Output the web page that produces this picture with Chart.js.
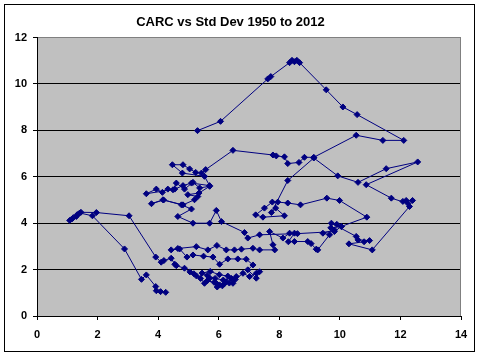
<!DOCTYPE html>
<html>
<head>
<meta charset="utf-8">
<script src="https://cdn.jsdelivr.net/npm/chart.js@4/dist/chart.umd.min.js"></script>
<style>
html,body{margin:0;padding:0;background:#fff;}
#wrap{position:relative;width:482px;height:357px;}
canvas{display:block;}
</style>
</head>
<body>
<div id="wrap"><canvas id="c" width="482" height="357"></canvas></div>
<script>
const chartTitle = 'CARC vs Std Dev 1950 to 2012';
const xTickValues = [0, 2, 4, 6, 8, 10, 12, 14];
const yTickValues = [0, 2, 4, 6, 8, 10, 12];

// Std Dev (x) in path order
const stdDev = [
  4.25,4.08,3.94,3.92,3.61,3.45,2.89,1.83,1.41,1.30,1.15,1.08,1.20,1.33,1.45,1.96,3.04,3.92,4.10,4.19,4.43,4.55,4.60,4.87,
  5.05,5.26,5.18,5.40,5.53,5.70,5.62,5.85,5.92,6.03,5.95,6.12,6.25,6.18,6.35,6.47,6.58,6.42,6.15,5.88,5.62,5.45,5.72,6.02,6.30,6.55,6.80,7.02,7.24,7.35,7.24,
  6.96,7.13,6.91,6.63,6.30,6.03,5.81,5.50,5.15,4.95,4.71,4.43,4.65,5.26,5.64,5.94,6.25,6.52,6.75,7.13,7.35,
  7.85,7.79,7.68,8.12,8.34,8.50,8.30,8.50,8.94,9.05,9.22,9.27,
  9.66,9.44,9.82,9.70,10.05,9.90,9.72,10.54,10.60,10.98,10.80,10.30,11.07,12.30,12.19,12.40,12.08,12.25,11.70,10.87,12.57,11.53,10.60,9.93,9.14,8.28,7.74,
  7.88,8.17,7.46,7.22,7.51,7.77,7.95,8.28,8.70,9.57,9.99,10.89,10.05,9.82,8.60,7.35,6.96,6.85,6.09,5.92,
  5.70,5.15,4.65,5.10,4.77,4.16,3.78,4.18,4.82,5.20,5.31,4.98,5.35,5.70,5.37,5.15,4.87,4.60,4.49,4.32,4.14,3.94,3.61,4.55,4.82,5.10,5.70,5.53,4.80,4.47,4.82,5.04,5.24,5.43,5.57,
  6.47,7.79,7.90,8.17,8.28,8.65,8.83,9.14,10.54,11.42,12.11,10.57,10.10,9.55,8.67,8.58,8.50,8.42,8.34,7.72,7.62,6.06,5.30
];

// CARC (y) in path order
const carc = [
  1.02,1.05,1.09,1.27,1.77,1.58,2.89,4.32,4.44,4.29,4.18,4.12,4.24,4.37,4.47,4.46,4.32,2.54,2.32,2.39,2.49,2.23,2.17,2.06,
  1.90,1.73,1.82,1.62,1.41,1.63,1.52,1.45,1.41,1.34,1.25,1.30,1.48,1.38,1.42,1.41,1.70,1.62,1.55,1.62,1.75,1.85,1.92,1.78,1.72,1.58,1.84,1.70,1.84,1.91,1.63,
  1.99,2.20,2.45,2.46,2.46,2.23,2.54,2.58,2.63,2.54,2.89,2.85,2.91,2.99,2.85,3.04,2.85,2.85,2.88,2.92,2.85,
  2.85,3.07,3.64,3.36,3.57,3.57,3.20,3.21,3.21,3.12,2.88,2.85,
  3.50,3.57,3.71,3.80,3.86,3.95,4.00,3.43,3.28,3.25,3.20,3.11,2.85,4.72,4.98,4.98,4.94,4.85,5.08,5.66,6.64,6.35,5.76,6.04,6.81,5.84,4.46,
  4.65,4.32,4.26,4.36,4.65,4.91,4.91,4.87,4.79,5.08,4.98,4.26,3.86,3.64,3.55,3.50,3.36,3.60,4.07,4.55,
  4.00,4.00,4.29,4.61,4.79,5.01,4.84,5.00,4.79,5.01,5.15,5.23,5.30,5.59,5.52,5.76,5.47,5.73,5.44,5.47,5.33,5.47,5.27,5.47,5.62,5.73,5.62,6.02,6.16,6.52,6.52,6.34,6.19,6.16,6.31,
  7.14,6.94,6.90,6.86,6.57,6.62,6.84,6.84,7.79,7.57,7.57,8.68,9.01,9.75,10.92,11.02,10.96,11.02,10.92,10.32,10.22,8.39,7.99
];

const points = stdDev.map((x, i) => ({ x: x, y: carc[i] }));

const framePlugin = {
  id: 'frame',
  beforeDraw(chart) {
    const ctx = chart.ctx;
    const a = chart.chartArea;
    ctx.save();
    ctx.fillStyle = '#ffffff';
    ctx.fillRect(0, 0, chart.width, chart.height);
    ctx.strokeStyle = '#000000';
    ctx.lineWidth = 1;
    ctx.strokeRect(4.5, 4.5, 470, 347);
    ctx.fillStyle = '#c0c0c0';
    ctx.fillRect(a.left, a.top, a.right - a.left, a.bottom - a.top);
    ctx.restore();
  },
  afterDraw(chart) {
    const ctx = chart.ctx;
    const a = chart.chartArea;
    ctx.save();
    ctx.strokeStyle = '#808080';
    ctx.lineWidth = 1;
    const xr = Math.round(a.right) - 0.5;
    ctx.beginPath();
    ctx.moveTo(xr, a.top);
    ctx.lineTo(xr, a.bottom);
    ctx.stroke();
    ctx.restore();
  }
};

const tickFont = { family: 'Liberation Sans, Arial, sans-serif', size: 11, weight: 'bold' };

new Chart(document.getElementById('c'), {
  type: 'scatter',
  data: {
    datasets: [{
      data: points,
      showLine: true,
      borderColor: '#000080',
      borderWidth: 1,
      tension: 0,
      pointStyle: 'rectRot',
      pointRadius: 3,
      pointHoverRadius: 3,
      pointBackgroundColor: '#000080',
      pointBorderColor: '#000080',
      pointBorderWidth: 1
    }]
  },
  options: {
    responsive: false,
    animation: false,
    devicePixelRatio: 1,
    layout: { padding: { left: 0, right: 21, top: 0, bottom: 0 } },
    plugins: {
      legend: { display: false },
      tooltip: { enabled: false },
      title: {
        display: true,
        text: chartTitle,
        color: '#000000',
        font: { family: 'Liberation Sans, Arial, sans-serif', size: 13, weight: 'bold' },
        padding: { top: 15, bottom: 7 }
      }
    },
    scales: {
      x: {
        type: 'linear',
        min: xTickValues[0],
        max: xTickValues[xTickValues.length - 1],
        afterBuildTicks(scale) { scale.ticks = xTickValues.map(v => ({ value: v })); },
        afterFit(scale) { scale.height = 41; },
        ticks: { color: '#000000', font: tickFont, padding: 8, maxRotation: 0 },
        grid: { drawOnChartArea: false, drawTicks: true, tickLength: 4, tickColor: '#000000', color: '#000000' },
        border: { display: true, color: '#000000', width: 1 }
      },
      y: {
        type: 'linear',
        min: yTickValues[0],
        max: yTickValues[yTickValues.length - 1],
        afterBuildTicks(scale) { scale.ticks = yTickValues.map(v => ({ value: v })); },
        afterFit(scale) { scale.width = 37; },
        ticks: { color: '#000000', font: tickFont, padding: 6 },
        grid: {
          drawOnChartArea: true, drawTicks: true, tickLength: 4, tickColor: '#000000',
          color: (ctx) => (ctx.tick && ctx.tick.value === yTickValues[yTickValues.length - 1]) ? '#808080' : '#000000',
          lineWidth: 1
        },
        border: { display: true, color: '#000000', width: 1 }
      }
    }
  },
  plugins: [framePlugin]
});
</script>
</body>
</html>
